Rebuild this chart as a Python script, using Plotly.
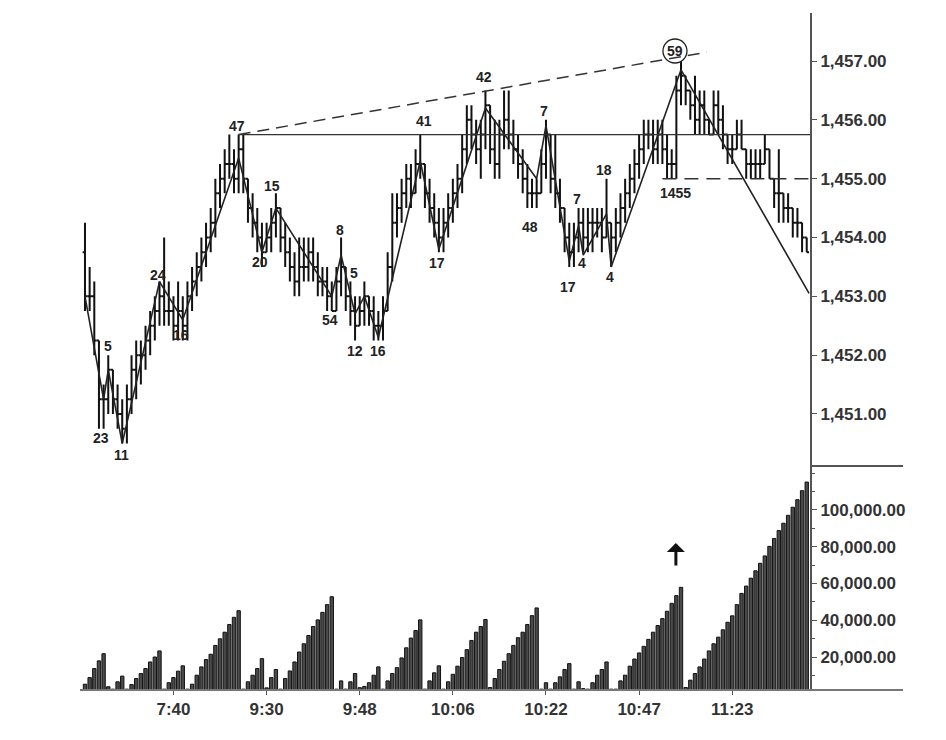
import plotly.graph_objects as go

# ---------------- data ----------------
bar_index = list(range(156))

opens = [
    1453.75, 1453.0, 1453.0, 1452.25, 1451.25, 1451.25, 1451.75, 1451.25, 1451.0, 1450.75,
    1451.25, 1451.75, 1452.0, 1452.0, 1452.25, 1452.5, 1452.75, 1453.0, 1452.75, 1452.75,
    1452.5, 1452.75, 1452.5, 1453.0, 1453.25, 1453.5, 1453.75, 1454.0, 1454.25, 1454.75,
    1455.0, 1455.25, 1455.25, 1455.0, 1455.5, 1455.0, 1454.5, 1454.25, 1454.0, 1453.75,
    1454.0, 1454.25, 1454.5, 1454.0, 1453.75, 1453.5, 1453.25, 1453.5, 1453.5, 1453.75,
    1453.5, 1453.25, 1453.25, 1453.0, 1452.75, 1453.25, 1453.5, 1453.0, 1452.75, 1452.5,
    1452.75, 1453.0, 1452.75, 1452.5, 1452.5, 1452.75, 1453.5, 1454.25, 1454.5, 1454.75,
    1455.0, 1454.75, 1455.25, 1455.25, 1454.75, 1454.5, 1454.25, 1454.0, 1454.25, 1454.5,
    1454.75, 1455.0, 1455.5, 1456.0, 1455.75, 1455.5, 1455.75, 1456.25, 1455.5, 1455.25,
    1455.75, 1456.0, 1455.75, 1455.5, 1455.25, 1455.0, 1454.75, 1454.75, 1454.75, 1455.25,
    1455.75, 1455.0, 1454.75, 1454.5, 1454.0, 1453.75, 1454.0, 1454.25, 1454.0, 1454.25,
    1454.25, 1454.25, 1454.0, 1454.25, 1454.0, 1454.25, 1454.5, 1454.75, 1455.0, 1455.25,
    1455.5, 1455.75, 1455.75, 1455.5, 1455.75, 1455.5, 1455.25, 1455.25, 1456.5, 1456.75,
    1456.5, 1456.25, 1456.0, 1456.25, 1456.0, 1455.75, 1456.25, 1456.0, 1455.75, 1455.5,
    1455.5, 1455.75, 1455.5, 1455.25, 1455.25, 1455.25, 1455.25, 1455.5, 1455.0, 1454.75,
    1454.75, 1454.5, 1454.5, 1454.25, 1454.25, 1454.0,
]
highs = [
    1454.25, 1453.5, 1453.25, 1452.25, 1451.5, 1452.0, 1451.75, 1451.5, 1451.25, 1451.5,
    1452.0, 1452.25, 1452.25, 1452.5, 1452.75, 1453.0, 1453.25, 1454.0, 1453.25, 1453.0,
    1453.25, 1453.0, 1453.25, 1453.5, 1453.75, 1454.0, 1454.25, 1454.5, 1455.0, 1455.25,
    1455.5, 1455.75, 1455.5, 1455.75, 1455.75, 1455.0, 1454.75, 1454.5, 1454.25, 1454.25,
    1454.5, 1454.75, 1454.5, 1454.25, 1454.0, 1453.75, 1454.0, 1454.0, 1454.0, 1454.0,
    1453.75, 1453.5, 1453.5, 1453.25, 1453.5, 1454.0, 1453.5, 1453.25, 1453.0, 1453.0,
    1453.25, 1453.0, 1453.0, 1452.75, 1453.0, 1453.75, 1454.75, 1454.75, 1455.0, 1455.25,
    1455.25, 1455.5, 1455.75, 1455.25, 1455.0, 1454.75, 1454.5, 1454.5, 1454.75, 1455.0,
    1455.25, 1455.75, 1456.25, 1456.25, 1456.0, 1456.0, 1456.5, 1456.25, 1456.0, 1456.0,
    1456.5, 1456.5, 1456.0, 1455.75, 1455.5, 1455.25, 1455.0, 1455.0, 1455.5, 1456.0,
    1455.75, 1455.75, 1455.0, 1454.5, 1454.25, 1454.25, 1454.5, 1454.5, 1454.5, 1454.5,
    1454.5, 1454.5, 1455.0, 1454.25, 1454.5, 1454.75, 1455.0, 1455.25, 1455.5, 1455.75,
    1456.0, 1456.0, 1456.0, 1456.0, 1456.0, 1455.75, 1455.5, 1456.75, 1457.0, 1456.75,
    1456.5, 1456.75, 1456.5, 1456.5, 1456.0, 1456.5, 1456.5, 1456.25, 1455.75, 1455.75,
    1456.0, 1456.0, 1455.5, 1455.5, 1455.5, 1455.5, 1455.75, 1455.5, 1455.0, 1455.5,
    1454.75, 1454.75, 1454.5, 1454.5, 1454.25, 1454.0,
]
lows = [
    1452.75, 1452.75, 1452.0, 1450.75, 1450.75, 1451.0, 1451.0, 1450.75, 1450.5, 1450.5,
    1451.0, 1451.25, 1451.5, 1451.75, 1452.0, 1452.25, 1452.5, 1452.5, 1452.5, 1452.25,
    1452.25, 1452.25, 1452.25, 1452.75, 1453.0, 1453.25, 1453.5, 1453.75, 1454.0, 1454.5,
    1454.75, 1455.0, 1454.75, 1454.75, 1454.75, 1454.25, 1454.0, 1453.75, 1453.5, 1453.75,
    1453.75, 1454.0, 1453.75, 1453.5, 1453.25, 1453.0, 1453.0, 1453.25, 1453.25, 1453.25,
    1453.0, 1453.0, 1452.75, 1452.75, 1452.75, 1453.0, 1452.75, 1452.5, 1452.25, 1452.5,
    1452.5, 1452.5, 1452.25, 1452.25, 1452.25, 1452.75, 1453.25, 1454.0, 1454.25, 1454.5,
    1454.5, 1454.75, 1455.0, 1454.5, 1454.25, 1454.0, 1453.75, 1453.75, 1454.0, 1454.25,
    1454.5, 1454.75, 1455.25, 1455.5, 1455.25, 1455.0, 1455.5, 1455.25, 1455.0, 1455.0,
    1455.5, 1455.5, 1455.25, 1455.0, 1454.75, 1454.5, 1454.5, 1454.5, 1454.75, 1455.0,
    1454.75, 1454.5, 1454.25, 1453.75, 1453.5, 1453.5, 1453.75, 1453.75, 1453.75, 1453.75,
    1454.0, 1453.75, 1454.0, 1453.5, 1453.75, 1454.0, 1454.25, 1454.5, 1454.75, 1455.0,
    1455.25, 1455.5, 1455.25, 1455.25, 1455.25, 1455.0, 1455.0, 1455.0, 1456.25, 1456.25,
    1456.0, 1455.75, 1455.75, 1455.75, 1455.75, 1455.75, 1455.75, 1455.5, 1455.25, 1455.25,
    1455.5, 1455.5, 1455.0, 1455.0, 1455.0, 1455.0, 1455.25, 1455.0, 1454.5, 1454.25,
    1454.25, 1454.25, 1454.0, 1454.0, 1453.75, 1453.75,
]
closes = [
    1453.0, 1453.0, 1452.25, 1451.25, 1451.25, 1451.75, 1451.25, 1451.0, 1450.75, 1451.25,
    1451.75, 1452.0, 1452.0, 1452.25, 1452.5, 1452.75, 1453.0, 1452.75, 1452.75, 1452.5,
    1452.75, 1452.5, 1453.0, 1453.25, 1453.5, 1453.75, 1454.0, 1454.25, 1454.75, 1455.0,
    1455.25, 1455.25, 1455.0, 1455.5, 1455.0, 1454.5, 1454.25, 1454.0, 1453.75, 1454.0,
    1454.25, 1454.5, 1454.0, 1453.75, 1453.5, 1453.25, 1453.5, 1453.5, 1453.75, 1453.5,
    1453.25, 1453.25, 1453.0, 1452.75, 1453.25, 1453.5, 1453.0, 1452.75, 1452.5, 1452.75,
    1453.0, 1452.75, 1452.5, 1452.5, 1452.75, 1453.5, 1454.25, 1454.5, 1454.75, 1455.0,
    1454.75, 1455.25, 1455.25, 1454.75, 1454.5, 1454.25, 1454.0, 1454.25, 1454.5, 1454.75,
    1455.0, 1455.5, 1456.0, 1455.75, 1455.5, 1455.75, 1456.25, 1455.5, 1455.25, 1455.75,
    1456.0, 1455.75, 1455.5, 1455.25, 1455.0, 1454.75, 1454.75, 1454.75, 1455.25, 1455.75,
    1455.0, 1454.75, 1454.5, 1454.0, 1453.75, 1454.0, 1454.25, 1454.0, 1454.25, 1454.25,
    1454.25, 1454.0, 1454.25, 1454.0, 1454.25, 1454.5, 1454.75, 1455.0, 1455.25, 1455.5,
    1455.75, 1455.75, 1455.5, 1455.75, 1455.5, 1455.25, 1455.25, 1456.5, 1456.75, 1456.5,
    1456.25, 1456.0, 1456.25, 1456.0, 1455.75, 1456.25, 1456.0, 1455.75, 1455.5, 1455.5,
    1455.75, 1455.5, 1455.25, 1455.25, 1455.25, 1455.25, 1455.5, 1455.0, 1454.75, 1454.75,
    1454.5, 1454.5, 1454.25, 1454.25, 1454.0, 1453.75,
]
# cumulative wave volume per bar
wave_volume = [
    5200, 8800, 13700, 17900, 21800, 3800, 2500, 6500, 9600, 2500,
    5000, 8300, 11000, 13700, 17300, 20000, 23300, 2500, 6000, 8800,
    12300, 15200, 2500, 5200, 10100, 14600, 18600, 21500, 26300, 29900,
    33500, 37700, 41600, 45200, 2500, 6500, 10100, 13700, 19100, 3200,
    8800, 13200, 2500, 8300, 12400, 17300, 22700, 27200, 31700, 36600,
    40200, 44300, 48500, 52800, 2500, 7000, 2500, 6500, 11000, 3300,
    4000, 6000, 10100, 14600, 2500, 7000, 11000, 14200, 19500, 25000,
    30300, 34400, 40200, 2500, 7000, 11400, 15200, 2500, 6500, 10600,
    15000, 19700, 24000, 29000, 33500, 36600, 40400, 3400, 8300, 13200,
    17700, 21800, 26300, 30500, 33500, 37700, 42500, 46700, 2500, 6000,
    2500, 6000, 9200, 13200, 16400, 2500, 6500, 2800, 2500, 6000,
    10100, 13200, 17300, 2500, 2500, 7000, 10100, 15000, 18900, 22200,
    25800, 29600, 33500, 37100, 40900, 44900, 49200, 53400, 57900, 3400,
    7400, 11000, 14600, 18900, 23300, 27200, 30800, 34800, 38900, 42400,
    48500, 54600, 58600, 62900, 66900, 71000, 75000, 80200, 84500, 88800,
    92800, 97100, 101500, 105600, 110500, 115200,
]

time_tick_index = [19, 39, 59, 79, 99, 119, 139]
time_tick_text = ["7:40", "9:30", "9:48", "10:06", "10:22", "10:47", "11:23"]
price_ticks = [1451, 1452, 1453, 1454, 1455, 1456, 1457]
volume_ticks = [20000, 40000, 60000, 80000, 100000]

# wave (zig-zag) line pivots
wave_x = [0, 4, 5, 8, 16, 21, 33, 38, 41, 53, 55, 58, 60, 63, 72, 76, 86, 97, 99,
          104, 106, 107, 112, 113, 128, 155.5]
wave_y = [1453.0, 1451.25, 1451.75, 1450.5, 1453.25, 1452.6, 1455.35, 1453.75, 1454.5,
          1453.0, 1453.7, 1452.7, 1453.0, 1452.3, 1455.3, 1453.8, 1456.2, 1455.0, 1455.9,
          1453.6, 1454.2, 1453.7, 1454.4, 1453.5, 1456.85, 1453.05]

# reference lines
resistance_x = [33, 155.7]
resistance_y = [1455.75, 1455.75]
trend_x = [33, 133.5]
trend_y = [1455.75, 1457.15]
support_x = [124, 155.7]
support_y = [1455.0, 1455.0]

# wave volume labels (thousands)
label_text = ["23", "5", "11", "24", "16", "47", "20", "15", "54", "8", "5", "12", "16",
              "41", "17", "42", "48", "7", "17", "7", "4", "18", "4", "59", "1455"]
label_x = [3.4, 4.9, 7.9, 15.7, 20.6, 32.6, 37.6, 40.2, 52.6, 54.8, 57.8, 58.0, 62.9,
           72.8, 75.6, 85.7, 95.6, 98.6, 103.7, 105.7, 106.7, 111.5, 112.8, 126.7, 126.9]
label_y = [1450.59, 1452.16, 1450.30, 1453.36, 1452.34, 1455.90, 1453.58, 1454.88, 1452.60,
           1454.13, 1453.40, 1452.07, 1452.07, 1455.98, 1453.57, 1456.73, 1454.18, 1456.15,
           1453.16, 1454.65, 1453.57, 1455.15, 1453.33, 1457.17, 1454.76]

# ---------------- figure ----------------
FONT = "Liberation Sans Narrow, Arial Narrow, Liberation Sans, Arial, sans-serif"
INK = "#222222"

fig = go.Figure()

fig.add_trace(go.Ohlc(
    x=bar_index, open=opens, high=highs, low=lows, close=closes,
    increasing=dict(line=dict(color="#111111", width=2)),
    decreasing=dict(line=dict(color="#111111", width=2)),
    tickwidth=0.5, xaxis="x", yaxis="y", hoverinfo="skip", showlegend=False,
))

fig.add_trace(go.Scatter(x=wave_x, y=wave_y, mode="lines",
                         line=dict(color="#222222", width=1.6),
                         xaxis="x", yaxis="y", hoverinfo="skip", showlegend=False))
fig.add_trace(go.Scatter(x=resistance_x, y=resistance_y, mode="lines",
                         line=dict(color="#333333", width=1.3),
                         xaxis="x", yaxis="y", hoverinfo="skip", showlegend=False))
fig.add_trace(go.Scatter(x=trend_x, y=trend_y, mode="lines",
                         line=dict(color="#333333", width=1.5, dash="12px,7px"),
                         xaxis="x", yaxis="y", hoverinfo="skip", showlegend=False))
fig.add_trace(go.Scatter(x=support_x, y=support_y, mode="lines",
                         line=dict(color="#333333", width=1.5, dash="14px,8px"),
                         xaxis="x", yaxis="y", hoverinfo="skip", showlegend=False))

fig.add_trace(go.Bar(x=bar_index, y=wave_volume, width=0.72,
                     marker=dict(color="#4a4a4a", line=dict(color="#111111", width=1)),
                     xaxis="x", yaxis="y2", hoverinfo="skip", showlegend=False))

annotations = []
for t, lx, ly in zip(label_text, label_x, label_y):
    annotations.append(dict(x=lx, y=ly, xref="x", yref="y", text="<b>%s</b>" % t,
                            showarrow=False, font=dict(family=FONT, size=14, color=INK)))
# arrow in the volume panel
annotations.append(dict(x=126.9, y=82000, xref="x", yref="y2", text="", showarrow=True,
                        ax=0, ay=24, arrowhead=1, arrowsize=1, arrowwidth=3,
                        arrowcolor="#111111"))

shapes = [
    # circle around the 59 label
    dict(type="circle", xref="x", yref="y", xsizemode="pixel", ysizemode="pixel",
         xanchor=126.7, yanchor=1457.17, x0=-12, x1=12, y0=-12, y1=12,
         line=dict(color="#222222", width=1.3)),
    # separator between panels (right side)
    dict(type="line", xref="paper", yref="paper", x0=1.0, x1=1.1274, y0=0.3309, y1=0.3309,
         line=dict(color="#555555", width=2)),
    # bottom base line
    dict(type="line", xref="paper", yref="paper", x0=0, x1=1.1274, y0=0, y1=0,
         line=dict(color="#777777", width=2)),
]

tickfont = dict(family=FONT, size=17, color="#333333", weight="bold")

fig.update_layout(
    width=946, height=740,
    margin=dict(l=80, r=136, t=13, b=50),
    paper_bgcolor="white", plot_bgcolor="white",
    showlegend=False, bargap=0.3,
    xaxis=dict(domain=[0, 1], range=[-1.07, 155.7], anchor="y2",
               tickmode="array", tickvals=time_tick_index, ticktext=time_tick_text,
               ticks="outside", ticklen=4, tickcolor="#555555", showline=False,
               showgrid=False, zeroline=False, tickfont=tickfont,
               rangeslider=dict(visible=False), fixedrange=True),
    yaxis=dict(domain=[0.3309, 1], range=[1450.116, 1457.816], side="right", anchor="x",
               tickmode="array", tickvals=price_ticks, tickformat=",.2f",
               ticks="outside", ticklen=5, tickcolor="#555555",
               showline=True, linecolor="#555555", linewidth=2, mirror=False,
               showgrid=False, zeroline=False, tickfont=tickfont),
    yaxis2=dict(domain=[0, 0.3309], range=[2040, 123950], side="right", anchor="x",
                tickmode="array", tickvals=volume_ticks, tickformat=",.2f",
                ticks="outside", ticklen=5, tickcolor="#555555",
                minor=dict(ticks="outside", ticklen=3, dtick=10000, tick0=0,
                           tickcolor="#555555"),
                showline=True, linecolor="#555555", linewidth=2,
                showgrid=False, zeroline=False, tickfont=tickfont),
    annotations=annotations,
    shapes=shapes,
)

fig.write_html("out.html", include_plotlyjs=True, config={"displayModeBar": False},
               post_script="document.body.style.margin='0';document.body.style.overflow='hidden';")
